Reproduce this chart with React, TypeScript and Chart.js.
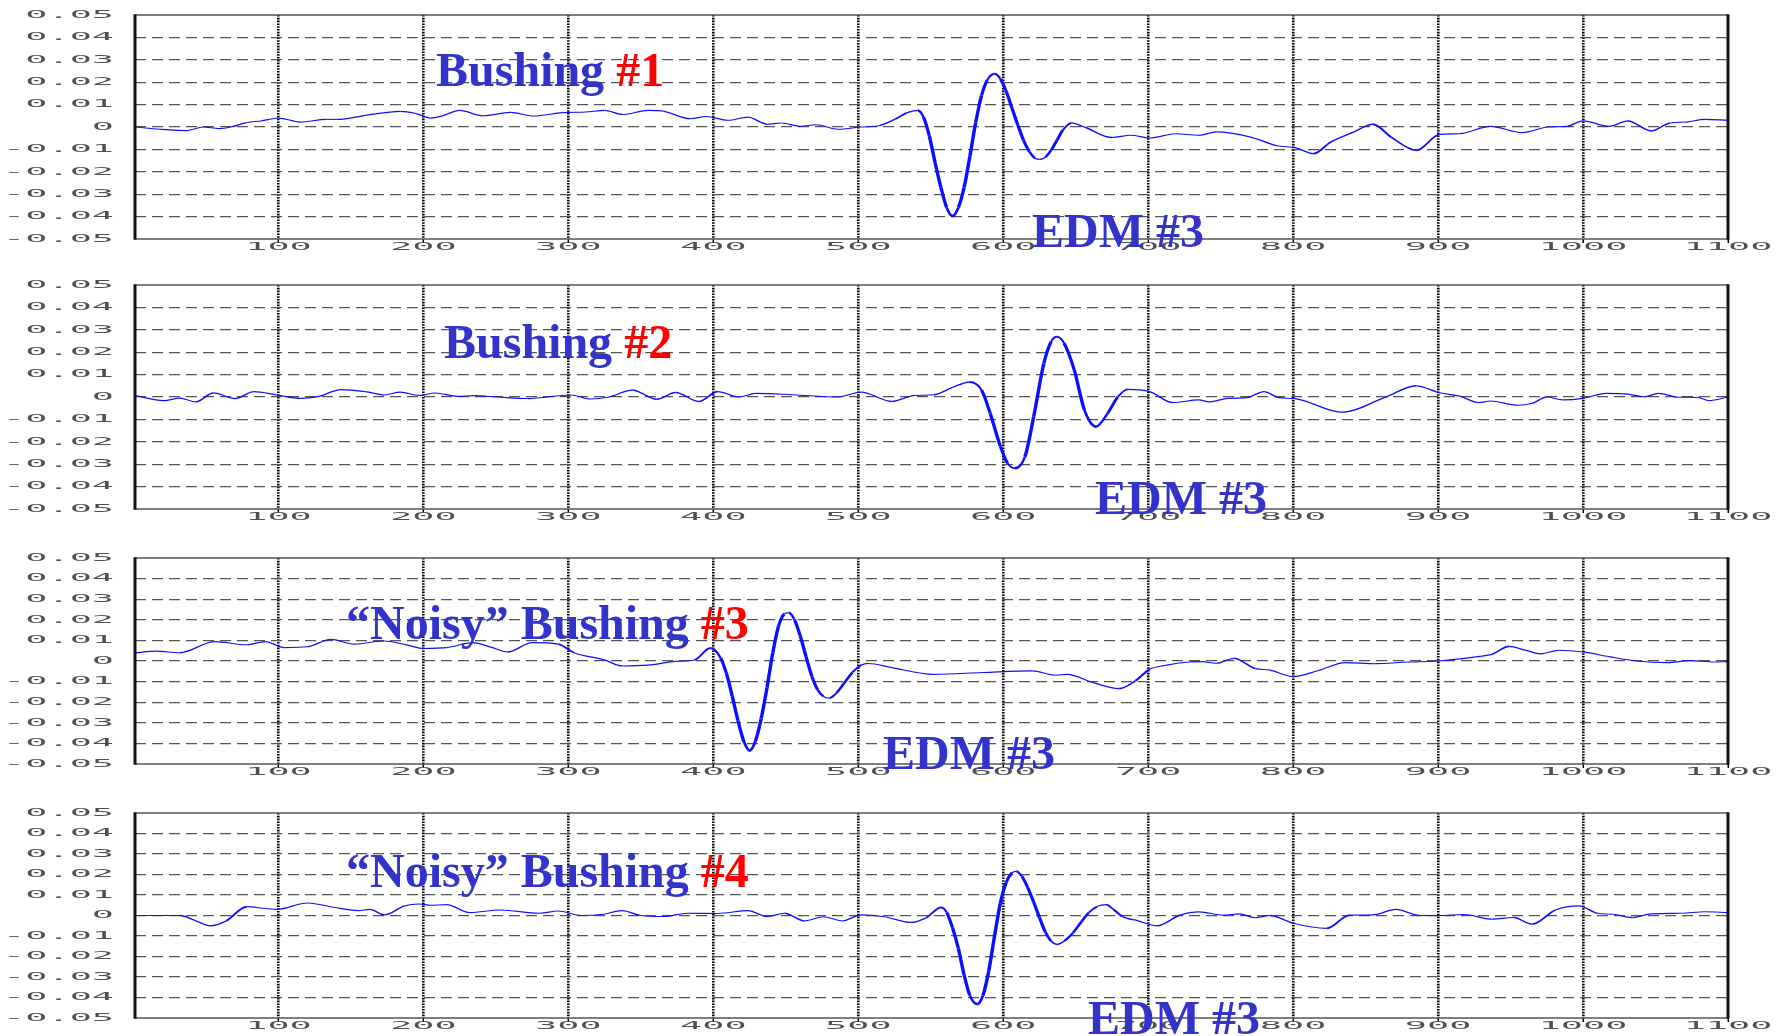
import React, { useEffect, useRef } from "react";
import { Chart, registerables } from "chart.js";

Chart.register(...registerables);

// ---------- tick values / labels ----------
const xTickValues = [100, 200, 300, 400, 500, 600, 700, 800, 900, 1000, 1100];
const xTickLabels = ["100", "200", "300", "400", "500", "600", "700", "800", "900", "1000", "1100"];
const yTickValues = [0.05, 0.04, 0.03, 0.02, 0.01, 0, -0.01, -0.02, -0.03, -0.04, -0.05];
const yTickLabels = ["0.05", "0.04", "0.03", "0.02", "0.01", "0", "-0.01", "-0.02", "-0.03", "-0.04", "-0.05"];

// ---------- Bushing #1 ----------
const b1X = [1, 18, 37, 48, 59, 67, 78, 88, 100, 115, 133, 141, 160, 184, 195, 205, 213, 225, 241, 260, 276, 296, 312, 325, 337, 355, 366, 384, 395, 410, 424, 437, 447, 460, 471, 486, 502, 515, 526, 533, 541, 545, 549, 553, 557, 561, 565, 569, 573, 577, 581, 585, 589, 594, 598, 602, 606, 610, 614, 618, 622, 625, 629, 633, 637, 641, 647, 656, 675, 688, 701, 719, 735, 747, 770, 789, 802, 814, 826, 842, 855, 868, 885, 901, 915, 936, 958, 976, 989, 1000, 1018, 1031, 1047, 1060, 1071, 1084, 1100];
const b1Y = [0, -0.001, -0.0016, 0, -0.0007, 0, 0.002, 0.0027, 0.004, 0.0022, 0.0034, 0.0034, 0.0052, 0.007, 0.006, 0.004, 0.005, 0.0074, 0.005, 0.0065, 0.0049, 0.0064, 0.0067, 0.0074, 0.0056, 0.0074, 0.007, 0.0037, 0.0047, 0.003, 0.0044, 0.0012, 0.0018, 0.0003, 0.001, -0.001, 0, 0.0007, 0.0037, 0.0062, 0.0074, 0.0044, -0.004, -0.016, -0.027, -0.036, -0.0397, -0.036, -0.027, -0.013, 0.002, 0.014, 0.021, 0.0237, 0.0215, 0.016, 0.0085, 0.001, -0.006, -0.011, -0.014, -0.0145, -0.0135, -0.0104, -0.006, -0.0015, 0.0018, 0, -0.0047, -0.0037, -0.0049, -0.003, -0.0037, -0.0022, -0.0044, -0.0084, -0.0093, -0.0119, -0.0067, -0.0022, 0.0012, -0.0047, -0.0104, -0.0033, -0.003, 0.0003, -0.0025, 0, 0.0003, 0.0027, 0.0003, 0.0027, -0.0018, 0.0018, 0.0022, 0.0034, 0.003];

// ---------- Bushing #2 ----------
const b2X = [1, 21, 32, 43, 55, 70, 83, 99, 115, 128, 143, 160, 173, 184, 197, 208, 224, 235, 251, 272, 302, 315, 328, 344, 361, 374, 390, 403, 418, 429, 455, 486, 502, 523, 539, 552, 565, 577, 585, 591, 598, 603, 608, 615, 621, 628, 633, 637, 642, 649, 656, 664, 672, 679, 686, 701, 717, 735, 742, 755, 768, 780, 790, 801, 834, 863, 885, 901, 915, 928, 936, 955, 965, 975, 986, 1000, 1016, 1031, 1042, 1052, 1066, 1079, 1087, 1100];
const b2Y = [0.0006, -0.0016, -0.0005, -0.0022, 0.0018, -0.0007, 0.0024, 0.0009, -0.0006, 0.0003, 0.0033, 0.0024, 0.0009, 0.0022, 0.0007, 0.0018, 0.0003, 0.0006, 0, -0.0007, 0.0009, -0.0009, 0, 0.0031, -0.001, 0.002, -0.002, 0.0024, 0, 0.0016, 0.001, 0, 0.0022, -0.002, 0.0007, 0.001, 0.0043, 0.0067, 0.0031, -0.0073, -0.022, -0.0296, -0.0318, -0.0266, -0.0088, 0.015, 0.0247, 0.0269, 0.024, 0.012, -0.0058, -0.0132, -0.0073, 0, 0.0034, 0.0024, -0.0025, -0.0013, -0.0022, -0.0006, -0.0003, 0.0024, -0.0003, -0.0007, -0.0068, -0.0003, 0.005, 0.0019, 0.0004, -0.0025, -0.0018, -0.0037, -0.0028, 0, -0.0013, -0.0006, 0.0016, 0.0013, 0.0001, 0.0016, -0.0001, -0.0002, -0.0016, 0];

// ---------- "Noisy" Bushing #3 ----------
const b3X = [1, 16, 32, 56, 78, 91, 104, 120, 136, 152, 173, 187, 200, 216, 234, 246, 258, 275, 293, 304, 325, 337, 355, 374, 387, 398, 405, 409, 413, 417, 421, 425, 429, 433, 437, 441, 445, 449, 452, 456, 460, 464, 468, 472, 476, 480, 485, 490, 496, 502, 507, 523, 552, 586, 620, 636, 644, 662, 680, 691, 701, 712, 728, 737, 747, 759, 774, 784, 800, 818, 836, 857, 879, 900, 926, 937, 949, 960, 971, 983, 1000, 1018, 1037, 1058, 1074, 1090, 1100];
const b3Y = [0.004, 0.0048, 0.004, 0.0094, 0.0079, 0.0094, 0.0065, 0.0069, 0.0105, 0.0082, 0.0097, 0.0081, 0.0061, 0.0065, 0.0089, 0.0069, 0.0044, 0.0089, 0.0082, 0.004, 0.0005, -0.0024, -0.002, -0.0002, 0.0005, 0.0063, 0.0015, -0.006, -0.017, -0.029, -0.039, -0.0435, -0.039, -0.028, -0.013, 0.004, 0.017, 0.0228, 0.0234, 0.02, 0.012, 0.002, -0.0075, -0.014, -0.0172, -0.018, -0.0155, -0.011, -0.0055, -0.002, -0.0012, -0.0032, -0.0065, -0.0056, -0.0048, -0.0069, -0.0065, -0.0105, -0.0134, -0.0097, -0.004, -0.0021, -0.0005, -0.0003, -0.0011, 0.0013, -0.0037, -0.0044, -0.0076, -0.0045, -0.0008, -0.0013, -0.0005, 0, 0.002, 0.0032, 0.0071, 0.0053, 0.0035, 0.0052, 0.0044, 0.0021, 0, -0.0008, 0.0002, -0.0005, -0.0003];

// ---------- "Noisy" Bushing #4 ----------
const b4X = [1, 32, 43, 53, 64, 78, 91, 99, 120, 139, 155, 163, 173, 187, 197, 205, 216, 232, 253, 280, 293, 309, 324, 337, 350, 366, 382, 403, 424, 437, 449, 463, 476, 489, 502, 518, 536, 547, 557, 561, 565, 569, 573, 577, 582, 586, 590, 594, 598, 602, 606, 609, 613, 617, 621, 625, 629, 633, 637, 642, 648, 654, 659, 665, 671, 676, 682, 693, 706, 722, 735, 752, 763, 774, 784, 800, 823, 839, 855, 871, 887, 900, 918, 937, 952, 965, 981, 997, 1010, 1021, 1034, 1047, 1068, 1084, 1100];
const b4Y = [0, 0, -0.0026, -0.005, -0.0026, 0.0043, 0.0034, 0.003, 0.0061, 0.0039, 0.0024, 0.003, 0.0003, 0.0047, 0.0056, 0.005, 0.0053, 0.0014, 0.0027, 0.0011, 0.0022, 0, 0.0006, 0.0024, 0, -0.0005, 0.0011, 0.001, 0.0024, -0.0005, 0.0011, -0.0026, -0.0006, -0.0026, 0.0003, -0.0006, -0.0034, -0.001, 0.0039, 0.0015, -0.006, -0.016, -0.029, -0.039, -0.0432, -0.039, -0.027, -0.01, 0.006, 0.016, 0.0208, 0.0215, 0.019, 0.0135, 0.0065, -0.001, -0.008, -0.0125, -0.0141, -0.0125, -0.0085, -0.003, 0.0014, 0.0045, 0.0053, 0.003, -0.0004, -0.0026, -0.005, 0.0002, 0.0018, 0.0002, 0.0008, -0.0011, 0, -0.0038, -0.0063, 0.0002, 0.0003, 0.003, 0, 0, 0.0005, -0.0018, -0.001, -0.0042, 0.0027, 0.0047, 0.0011, 0.0006, -0.001, 0.0008, 0.0011, 0.0018, 0.0014];

// ---------- panel labels ----------
const panelTitles = ["Bushing ", "Bushing ", "\u201CNoisy\u201D Bushing ", "\u201CNoisy\u201D Bushing "];
const panelNumbers = ["#1", "#2", "#3", "#4"];
const edmLabel = "EDM #3";

const W = 1784;
const PLOT_LEFT = 135;
const PLOT_RIGHT = 1728;

const framePlugin = {
  id: "matlabFrame",
  afterDraw(chart: any) {
    const { ctx, chartArea: a, scales } = chart;
    ctx.save();
    const line = (x1: number, y1: number, x2: number, y2: number) => {
      ctx.beginPath();
      ctx.moveTo(x1, y1);
      ctx.lineTo(x2, y2);
      ctx.stroke();
    };
    ctx.setLineDash([]);
    ctx.strokeStyle = "#555";
    ctx.lineWidth = 1.4;
    line(a.left, a.top, a.right, a.top);
    line(a.left, a.bottom, a.right, a.bottom);
    ctx.strokeStyle = "#111";
    ctx.lineWidth = 3;
    line(a.left, a.top - 0.7, a.left, a.bottom + 0.7);
    line(a.right, a.top - 0.7, a.right, a.bottom + 0.7);

    // tick labels (horizontally stretched, MATLAB-like)
    ctx.fillStyle = "#505050";
    ctx.font = '11px "DejaVu Sans Mono", "Liberation Mono", monospace';
    try {
      (ctx as any).letterSpacing = "0px";
    } catch (e) {}
    const sx = 3.35;
    yTickValues.forEach((v, i) => {
      const y = scales.y.getPixelForValue(v);
      ctx.save();
      ctx.translate(114, y);
      ctx.scale(sx, 1);
      ctx.textAlign = "right";
      ctx.textBaseline = "middle";
      ctx.fillText(yTickLabels[i], 0, 0);
      ctx.restore();
    });
    xTickValues.forEach((v, i) => {
      const x = scales.x.getPixelForValue(v);
      ctx.save();
      ctx.translate(x, a.bottom + 8.5);
      ctx.scale(sx, 1);
      ctx.textAlign = "center";
      ctx.textBaseline = "middle";
      ctx.fillText(xTickLabels[i], 0, 0);
      ctx.restore();
    });
    ctx.restore();
  },
};

type PanelProps = {
  xs: number[];
  ys: number[];
  top: number;
  height: number;
  padTop: number;
  padBottom: number;
};

function Panel({ xs, ys, top, height, padTop, padBottom }: PanelProps) {
  const ref = useRef<HTMLCanvasElement>(null);
  useEffect(() => {
    if (!ref.current) return;
    const chart = new Chart(ref.current, {
      type: "line",
      data: {
        datasets: [
          {
            data: xs.map((x, i) => ({ x, y: ys[i] })),
            borderColor: "#0d0dff",
            borderWidth: 1.2,
            pointRadius: 0,
            fill: false,
            cubicInterpolationMode: "monotone",
            segment: {
              borderWidth: (c: any) => {
                const dx = c.p1.x - c.p0.x;
                const dy = c.p1.y - c.p0.y;
                const s = Math.abs(dy) / Math.max(1e-6, Math.hypot(dx, dy));
                return 1.1 + 2.4 * s * s;
              },
            },
          } as any,
        ],
      },
      options: {
        animation: false,
        responsive: false,
        maintainAspectRatio: false,
        events: [],
        layout: {
          padding: { left: PLOT_LEFT, right: W - PLOT_RIGHT, top: padTop, bottom: padBottom },
        },
        plugins: {
          legend: { display: false },
          tooltip: { enabled: false },
          title: { display: false },
        },
        scales: {
          x: {
            type: "linear",
            min: 1,
            max: 1100,
            afterBuildTicks: (s: any) => {
              s.ticks = xTickValues.map((v) => ({ value: v }));
            },
            afterFit: (s: any) => {
              s.height = 0;
            },
            ticks: { display: false },
            border: { display: false, dash: [1.6, 1.2] },
            grid: {
              color: (c: any) => (c.tick && c.tick.value >= 1100 ? "rgba(0,0,0,0)" : "#000"),
              lineWidth: 2.6,
              drawTicks: true,
              tickLength: 4,
              tickColor: "#000",
              tickWidth: 1.5,
              tickBorderDash: [],
            },
          },
          y: {
            type: "linear",
            min: -0.05,
            max: 0.05,
            afterBuildTicks: (s: any) => {
              s.ticks = yTickValues.map((v) => ({ value: v }));
            },
            afterFit: (s: any) => {
              s.width = 0;
            },
            ticks: { display: false },
            border: { display: false, dash: [11, 6] },
            grid: {
              color: (c: any) => (c.tick && Math.abs(c.tick.value) > 0.049 ? "rgba(0,0,0,0)" : "#555"),
              lineWidth: 1.3,
              drawTicks: false,
            },
          },
        },
      } as any,
      plugins: [framePlugin],
    });
    return () => chart.destroy();
  }, []);
  return (
    <canvas
      ref={ref}
      width={W}
      height={height}
      style={{ position: "absolute", left: 0, top, width: W, height, display: "block" }}
    />
  );
}

const textBase: React.CSSProperties = {
  position: "absolute",
  fontFamily: '"Liberation Serif", "Times New Roman", serif',
  fontWeight: "bold",
  fontSize: 48,
  lineHeight: "48px",
  whiteSpace: "nowrap",
  color: "#3333cc",
};

function Label({ left, cy, main, num }: { left: number; cy: number; main: string; num?: string }) {
  return (
    <div style={{ ...textBase, left, top: cy - 24.3 }}>
      {main}
      {num ? <span style={{ color: "#ff0000" }}>{num}</span> : null}
    </div>
  );
}

export default function App() {
  return (
    <div
      style={{
        position: "absolute",
        left: 0,
        top: 0,
        width: W,
        height: 1036,
        background: "#fff",
        overflow: "hidden",
      }}
    >
      <Panel xs={b1X} ys={b1Y} top={0} height={262} padTop={15} padBottom={23} />
      <Panel xs={b2X} ys={b2Y} top={262} height={273} padTop={23} padBottom={26} />
      <Panel xs={b3X} ys={b3Y} top={535} height={255} padTop={23} padBottom={26} />
      <Panel xs={b4X} ys={b4Y} top={790} height={246} padTop={23} padBottom={18} />

      <Label left={436} cy={70} main={panelTitles[0]} num={panelNumbers[0]} />
      <Label left={1032} cy={231} main={edmLabel} />
      <Label left={444} cy={342} main={panelTitles[1]} num={panelNumbers[1]} />
      <Label left={1095} cy={498} main={edmLabel} />
      <Label left={346} cy={623} main={panelTitles[2]} num={panelNumbers[2]} />
      <Label left={883} cy={753} main={edmLabel} />
      <Label left={346} cy={871} main={panelTitles[3]} num={panelNumbers[3]} />
      <Label left={1088} cy={1018} main={edmLabel} />
    </div>
  );
}
